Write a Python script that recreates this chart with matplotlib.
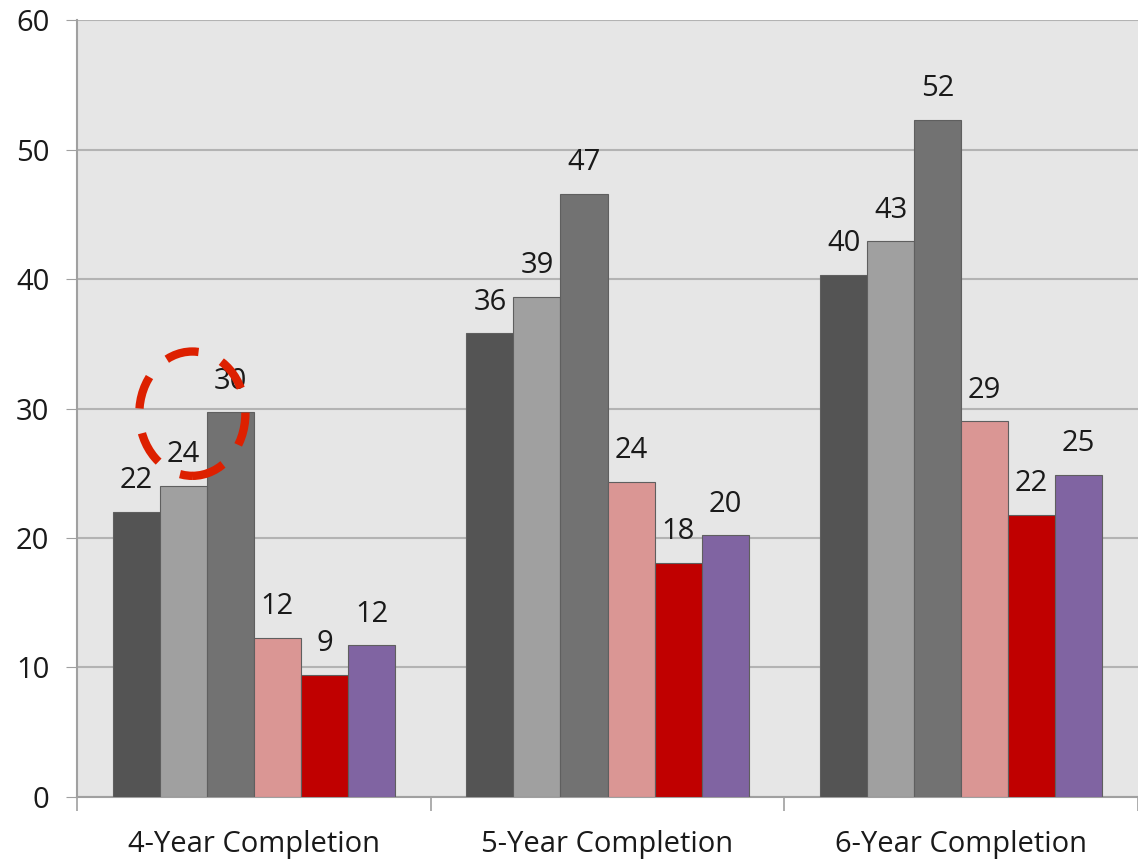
import numpy as np
import matplotlib.pyplot as plt
from matplotlib.patches import Ellipse

# groups and series values
groups = ["4-Year Completion", "5-Year Completion", "6-Year Completion"]
series_a = [22.0, 35.8, 40.3]
series_b = [24.0, 38.6, 42.9]
series_c = [29.7, 46.6, 52.3]
series_d = [12.3, 24.3, 29.0]
series_e = [9.4, 18.1, 21.8]
series_f = [11.7, 20.2, 24.9]
y_ticks = [0, 10, 20, 30, 40, 50, 60]

all_series = [series_a, series_b, series_c, series_d, series_e, series_f]
colors = ["#545454", "#a0a0a0", "#727272", "#da9694", "#c00000", "#8064a2"]

plt.rcParams['font.family'] = ['Open Sans', 'DejaVu Sans']

fig = plt.figure(figsize=(11.38, 8.63), dpi=100)
ax = fig.add_axes([0.0677, 0.0765, 0.9323, 0.9003])
ax.set_facecolor("#e6e6e6")

x = np.arange(len(groups))
width = 0.133
n = len(all_series)
for i, (vals, col) in enumerate(zip(all_series, colors)):
    pos = x + (i - (n - 1) / 2) * width
    bars = ax.bar(pos, vals, width, color=col, edgecolor="#5f5f5f",
                  linewidth=0.8, zorder=3)
    for b, v in zip(bars, vals):
        ax.text(b.get_x() + b.get_width() / 2, v + 1.3, "%d" % round(v),
                ha="center", va="bottom", fontsize=21, color="#1a1a1a",
                zorder=4)

ax.set_ylim(0, 60)
ax.set_xlim(-0.5, 2.47)
ax.set_yticks(y_ticks)
ax.tick_params(axis="y", labelsize=21, length=8, color="#a0a0a0",
               colors="#1a1a1a", pad=12)
ax.yaxis.grid(True, color="#b3b3b3", linewidth=1.5, zorder=0)
ax.set_axisbelow(True)

# group labels at the centres, tick marks at the group boundaries
ax.set_xticks(x)
ax.set_xticklabels(groups, fontsize=21, color="#1a1a1a")
ax.tick_params(axis="x", length=0, pad=24)
ax.set_xticks([-0.5, 0.5, 1.5, 2.5], minor=True)
ax.tick_params(axis="x", which="minor", length=10, color="#a0a0a0", width=1.2)

for s in ["top", "right"]:
    ax.spines[s].set_visible(False)
for s in ["left", "bottom"]:
    ax.spines[s].set_color("#a0a0a0")
    ax.spines[s].set_linewidth(1.5)

# red dashed circle around the 24 label
circ = Ellipse((-0.174, 29.6), 0.30, 9.6, fill=False, edgecolor="#dd2000",
               linewidth=6, linestyle=(0, (4, 3)), zorder=5, clip_on=False)
ax.add_patch(circ)

fig.savefig("out.png", dpi=100)
